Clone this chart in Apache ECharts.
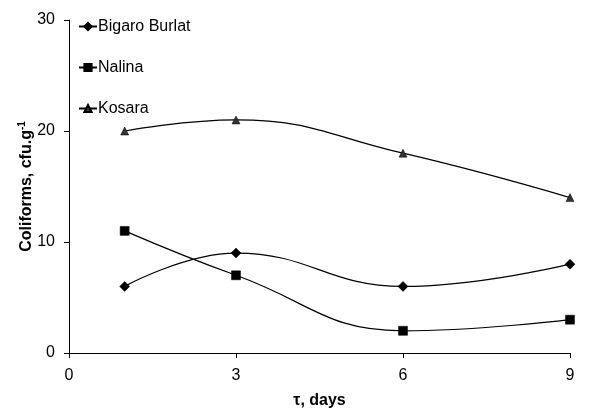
<!DOCTYPE html>
<html><head><meta charset="utf-8">
<script src="https://cdn.jsdelivr.net/npm/echarts@6/dist/echarts.min.js"></script>
<style>html,body{margin:0;padding:0;background:#fff}#c{width:590px;height:409px}</style>
</head><body><div id="c"></div>
<script>
const days = [1, 3, 6, 9];
const bigaro = [6, 9, 6, 8];
const nalina = [11, 7, 2, 3];
const kosara = [20, 21, 18, 14];
const xTicks = [0, 3, 6, 9];
const yTicks = [0, 10, 20, 30];

const pair = (v) => days.map((d, i) => [d, v[i]]);
const font = 'Arial, "Liberation Sans", sans-serif';
const chart = echarts.init(document.getElementById('c'));
const mk = (name, vals, symbol, size, color) => ({
  name, type: 'line', data: pair(vals), smooth: 0.45, symbol, symbolSize: size,
  showAllSymbol: true,
  lineStyle: { color: '#000', width: 1.2 },
  itemStyle: { color: color, borderColor: '#000', borderWidth: 0.5 },
  emphasis: { disabled: true }
});
chart.setOption({
  animation: false,
  grid: { left: 69, right: 20, top: 20, bottom: 56, outerBoundsMode: 'none', containLabel: false },
  legend: {
    orient: 'vertical', left: 73, top: 12, itemGap: 22, itemWidth: 18, itemHeight: 9,
    textStyle: { fontFamily: font, fontSize: 16, color: '#000', padding: [0, 0, 0, -4], lineHeight: 19 },
    data: ['Bigaro Burlat', 'Nalina', 'Kosara']
  },
  xAxis: {
    type: 'value', min: xTicks[0], max: xTicks[xTicks.length - 1], interval: 3,
    name: 'τ, days', nameLocation: 'middle', nameGap: 40,
    nameTextStyle: { fontFamily: font, fontSize: 16, fontWeight: 'bold', color: '#000' },
    axisLine: { lineStyle: { color: '#000', width: 1 } },
    axisTick: { show: true, length: 5, inside: false, lineStyle: { color: '#000' } },
    axisLabel: { fontFamily: font, fontSize: 16, color: '#000', margin: 15 },
    splitLine: { show: false }
  },
  yAxis: {
    type: 'value', min: yTicks[0], max: yTicks[yTicks.length - 1], interval: 10,
    name: '{a|Coliforms, cfu.g}{s|-1}', nameLocation: 'middle', nameGap: 33,
    nameMoveOverlap: false,
    nameTextStyle: {
      rich: {
        a: { fontFamily: font, fontSize: 16, fontWeight: 'bold', color: '#000' },
        s: { fontFamily: font, fontSize: 10, fontWeight: 'bold', color: '#000', verticalAlign: 'top', padding: [0, 0, 9, 0] }
      }
    },
    axisLine: { show: true, lineStyle: { color: '#000', width: 1 } },
    axisTick: { show: true, length: 5, lineStyle: { color: '#000' } },
    axisLabel: { fontFamily: font, fontSize: 16, color: '#000', margin: 14 },
    splitLine: { show: false }
  },
  series: [
    mk('Bigaro Burlat', bigaro, 'diamond', 10, '#000'),
    mk('Nalina', nalina, 'rect', 9, '#000'),
    mk('Kosara', kosara, 'triangle', 8, '#333')
  ]
});
</script></body></html>
